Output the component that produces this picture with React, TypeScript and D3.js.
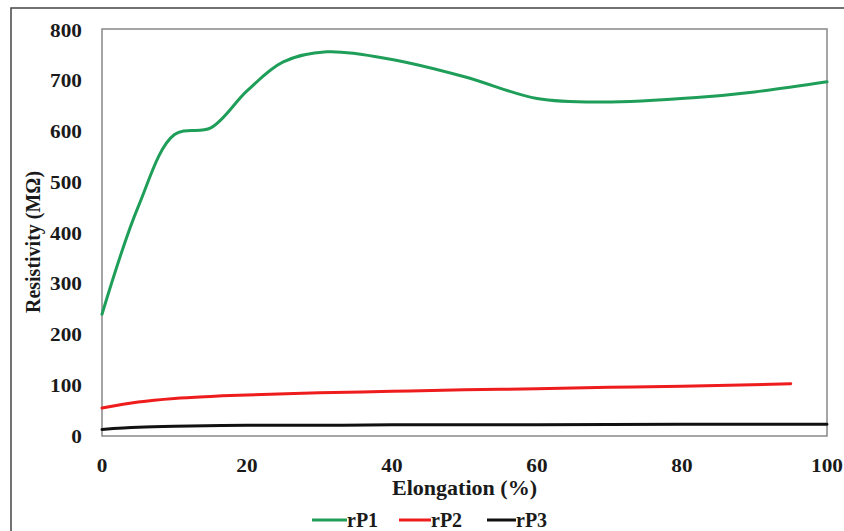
import React from "react";
import * as d3 from "d3";

const xTicks = [0, 20, 40, 60, 80, 100];
const yTicks = [0, 100, 200, 300, 400, 500, 600, 700, 800];

const rP1X = [0, 5, 10, 15, 20, 25, 31, 40, 50, 60, 69, 82, 90, 100];
const rP1Y = [240, 452, 594, 607, 680, 737, 757, 742, 708, 665, 658, 667, 678, 698];

const rP2X = [0, 5, 10, 15, 20, 30, 40, 50, 60, 70, 80, 95];
const rP2Y = [55, 67, 74, 78, 81, 85, 88, 91, 93, 96, 98, 103];

const rP3X = [0, 5, 10, 20, 30, 40, 60, 80, 100];
const rP3Y = [13, 17, 19, 21, 21, 22, 22, 23, 23];

const seriesNames = ["rP1", "rP2", "rP3"];
const seriesColors = ["#1f9e5a", "#ee1c1c", "#111111"];

export default function App() {
  const W = 844, H = 531;
  const left = 102, right = 827, top = 30, bottom = 436;
  const x = d3.scaleLinear().domain([0, 100]).range([left, right]);
  const y = d3.scaleLinear().domain([0, 800]).range([bottom, top]);
  const line = d3
    .line<[number, number]>()
    .x((d) => x(d[0]))
    .y((d) => y(d[1]))
    .curve(d3.curveCatmullRom.alpha(0.5));
  const series = [
    rP1X.map((v, i) => [v, rP1Y[i]] as [number, number]),
    rP2X.map((v, i) => [v, rP2Y[i]] as [number, number]),
    rP3X.map((v, i) => [v, rP3Y[i]] as [number, number]),
  ];
  const font = "'Liberation Serif', 'Times New Roman', serif";
  const legendPos = [
    { lx: 312, tx: 347 },
    { lx: 399, tx: 431 },
    { lx: 487, tx: 516 },
  ];
  const legendLen = [35, 32, 29];
  const textFill = "#1a1a1a";
  return (
    <svg
      width={W}
      height={H}
      style={{ position: "absolute", left: 0, top: 0, background: "#fff" }}
      fontFamily={font}
    >
      <rect x={11} y={8} width={W} height={H} fill="#fff" stroke="#444" strokeWidth={1.5} />
      <rect
        x={left}
        y={top - 1}
        width={right - left}
        height={bottom - top + 1}
        fill="none"
        stroke="#888"
        strokeWidth={1.5}
      />
      {yTicks.map((t) => (
        <text
          key={"y" + t}
          transform={`translate(82,${y(t)}) scale(1.12,1)`}
          dy="0.35em"
          textAnchor="end"
          fontSize={19}
          fontWeight="bold"
          fill={textFill}
        >
          {t}
        </text>
      ))}
      {xTicks.map((t) => (
        <text
          key={"x" + t}
          transform={`translate(${x(t)},465) scale(1.12,1)`}
          dy="0.35em"
          textAnchor="middle"
          fontSize={19}
          fontWeight="bold"
          fill={textFill}
        >
          {t}
        </text>
      ))}
      <text
        transform={`translate(${x(50)},488) scale(1.05,1)`}
        dy="0.35em"
        textAnchor="middle"
        fontSize={21}
        fontWeight="bold"
        fill={textFill}
      >
        Elongation (%)
      </text>
      <text
        transform={`translate(33,242) rotate(-90)`}
        dy="0.35em"
        textAnchor="middle"
        fontSize={20}
        fontWeight="bold"
        fill={textFill}
      >
        Resistivity (MΩ)
      </text>
      {series.map((s, i) => (
        <path
          key={"s" + i}
          d={line(s) || ""}
          fill="none"
          stroke={seriesColors[i]}
          strokeWidth={3}
          strokeLinecap="round"
        />
      ))}
      {seriesNames.map((n, i) => (
        <g key={"l" + n}>
          <line
            x1={legendPos[i].lx}
            x2={legendPos[i].lx + legendLen[i]}
            y1={520}
            y2={520}
            stroke={seriesColors[i]}
            strokeWidth={3}
          />
          <text
            x={legendPos[i].tx}
            y={520}
            dy="0.35em"
            fontSize={20}
            fontWeight="bold"
            fill={textFill}
          >
            {n}
          </text>
        </g>
      ))}
    </svg>
  );
}
